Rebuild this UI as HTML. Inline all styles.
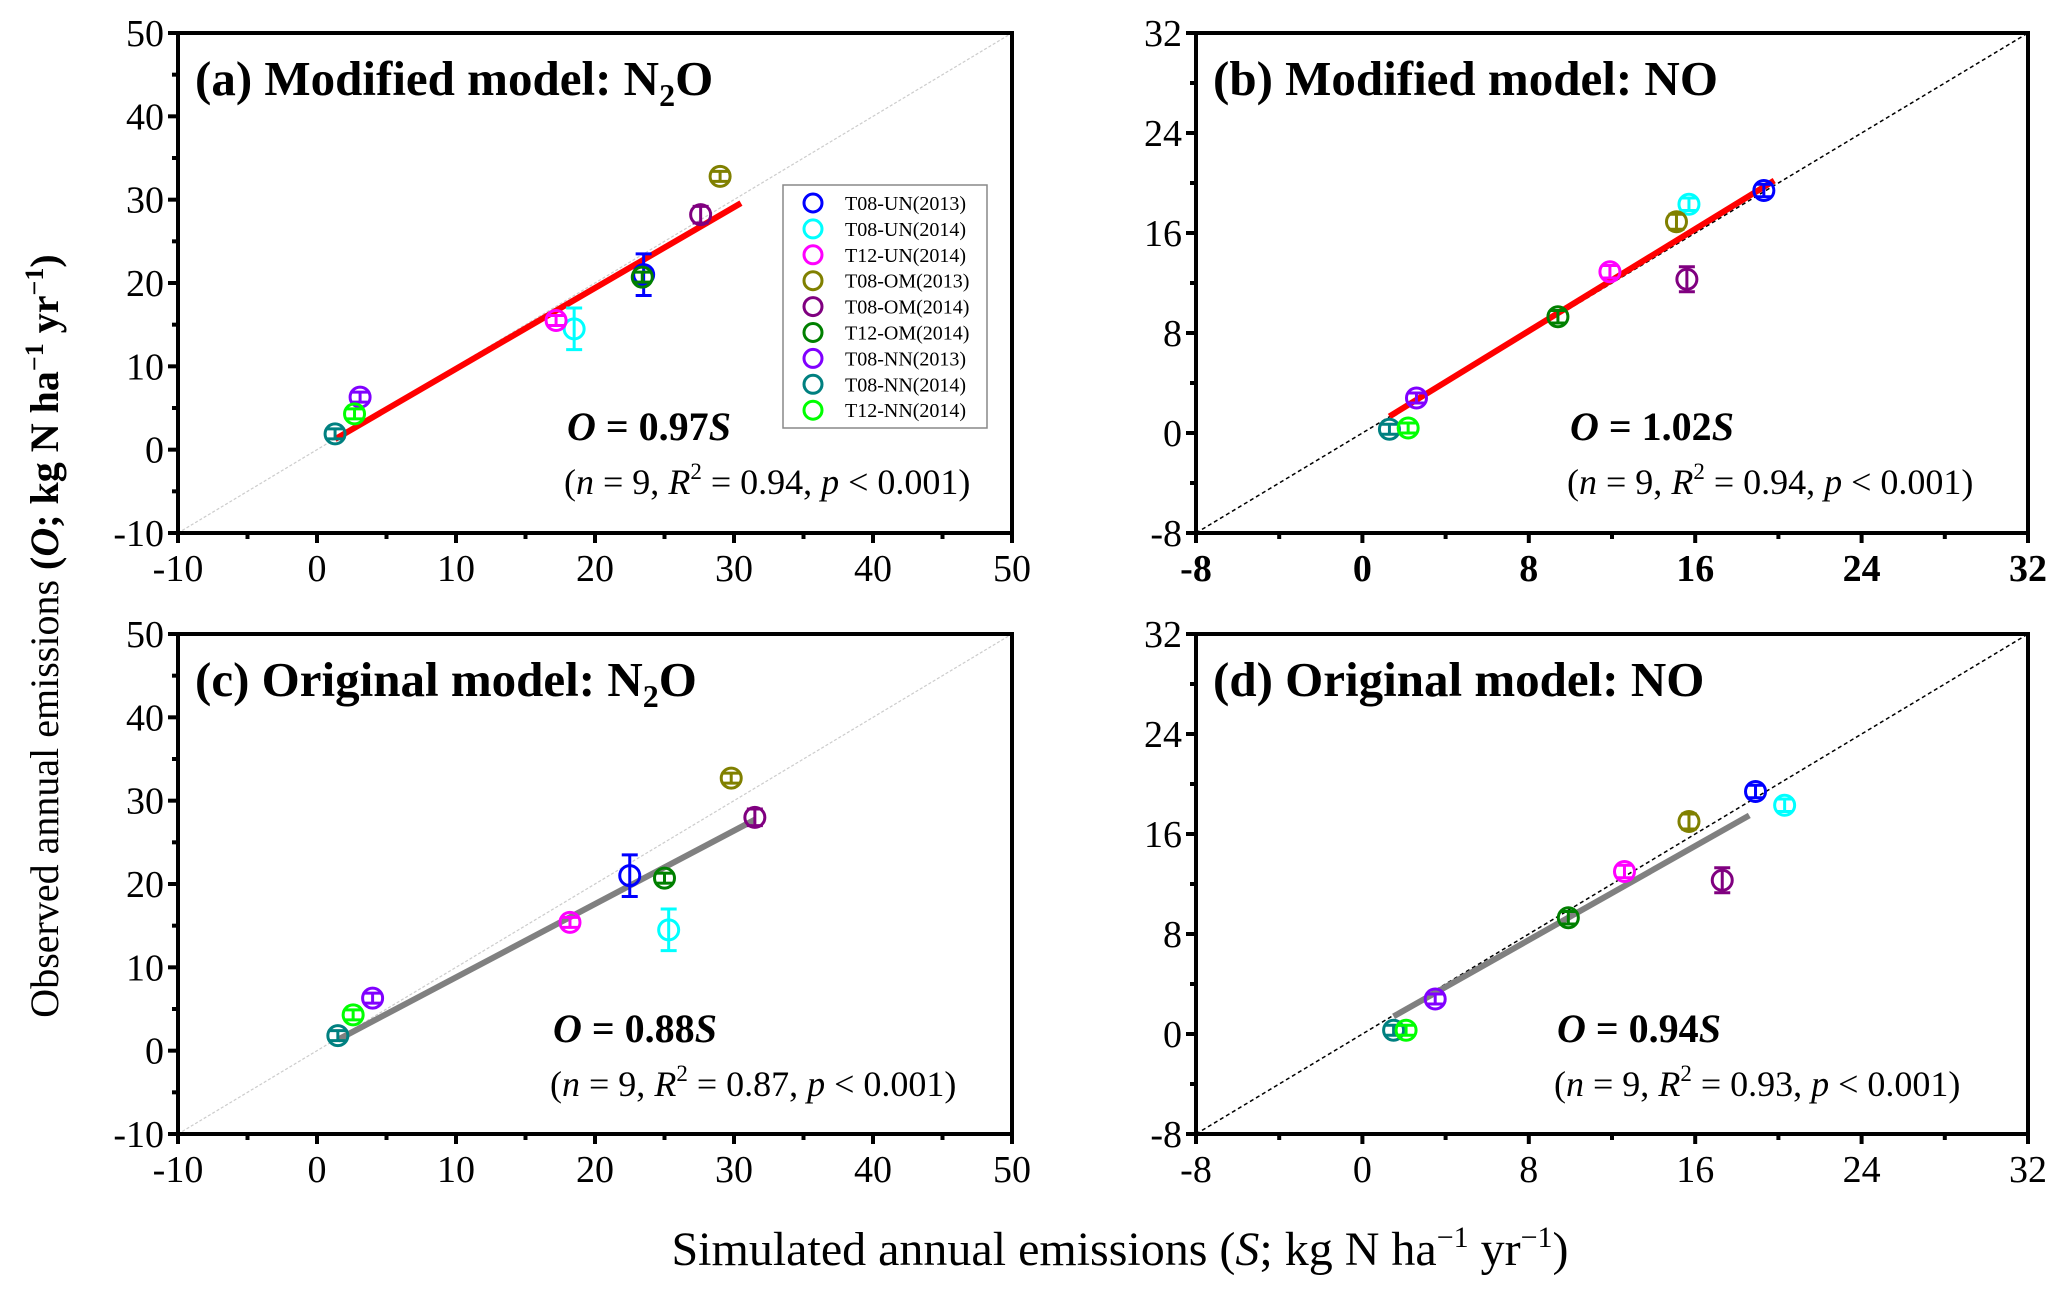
<!DOCTYPE html>
<html><head><meta charset="utf-8"><style>
body{margin:0;background:#fff}
svg{display:block;font-family:"Liberation Serif",serif}
</style></head><body>
<svg id="fig" width="2067" height="1295" viewBox="0 0 2067 1295" xmlns="http://www.w3.org/2000/svg">
<text transform="translate(58,636) rotate(-90)" text-anchor="middle" font-size="40">Observed annual emissions  <tspan font-weight="bold">(<tspan font-style="italic">O</tspan>; kg N ha<tspan font-size="26" dy="-15">−1</tspan><tspan dy="15"> yr</tspan><tspan font-size="26" dy="-15">−1</tspan><tspan dy="15">)</tspan></tspan></text>
<text x="1120" y="1265" text-anchor="middle" font-size="48">Simulated annual emissions (<tspan font-style="italic">S</tspan>; kg N ha<tspan font-size="30" dy="-18">−1</tspan><tspan dy="18"> yr</tspan><tspan font-size="30" dy="-18">−1</tspan><tspan dy="18">)</tspan></text>
</svg>
<script>
const seriesNames=["T08-UN(2013)","T08-UN(2014)","T12-UN(2014)","T08-OM(2013)","T08-OM(2014)","T12-OM(2014)","T08-NN(2013)","T08-NN(2014)","T12-NN(2014)"];
const seriesColors=["#0000ff","#00ffff","#ff00ff","#808000","#800080","#008000","#8000ff","#008080","#00ff00"];
const aSim=[23.5,18.5,17.2,29.0,27.6,23.4,3.1,1.3,2.7];
const aObs=[21.0,14.5,15.5,32.8,28.2,20.7,6.3,1.9,4.3];
const aErr=[2.5,2.5,0.6,0.6,1.0,0.6,0.6,0.6,0.6];
const bSim=[19.3,15.7,11.9,15.1,15.6,9.4,2.6,1.3,2.2];
const bObs=[19.4,18.3,12.9,16.9,12.3,9.3,2.8,0.3,0.4];
const bErr=[0.5,0.5,0.5,0.6,1.0,0.5,0.4,0.4,0.4];
const cSim=[22.5,25.3,18.2,29.8,31.5,25.0,4.0,1.5,2.6];
const cObs=[21.0,14.5,15.4,32.7,28.0,20.7,6.3,1.8,4.3];
const cErr=[2.5,2.5,0.6,0.6,1.0,0.6,0.6,0.6,0.6];
const dSim=[18.9,20.3,12.6,15.7,17.3,9.9,3.5,1.5,2.1];
const dObs=[19.4,18.3,13.0,17.0,12.3,9.3,2.8,0.3,0.3];
const dErr=[0.5,0.5,0.5,0.6,1.0,0.5,0.4,0.4,0.4];
const ticksN2O=[-10,0,10,20,30,40,50];
const ticksNO=[-8,0,8,16,24,32];
const slopes=[0.97,1.02,0.88,0.94];
const r2s=["0.94","0.94","0.87","0.93"];

const NS="http://www.w3.org/2000/svg";
const svg=document.getElementById('fig');
function mk(tag,attrs,parent){const e=document.createElementNS(NS,tag);for(const k in attrs)e.setAttribute(k,attrs[k]);(parent||svg).appendChild(e);return e;}

const panels=[
 {id:'a',L:178,R:1012,T:33,B:533,ticks:ticksN2O,minor:5,sim:aSim,obs:aObs,err:aErr,title:'(a) Modified model: N',sub:true,fit:'#ff0000',fx:[1.3,30.5],diag:'light',xb:false,legend:true,eqx:567,eqy:440},
 {id:'b',L:1196,R:2028,T:33,B:533,ticks:ticksNO,minor:4,sim:bSim,obs:bObs,err:bErr,title:'(b) Modified model: NO',sub:false,fit:'#ff0000',fx:[1.3,19.8],diag:'dot',xb:true,legend:false,eqx:1570,eqy:440},
 {id:'c',L:178,R:1012,T:634,B:1134,ticks:ticksN2O,minor:5,sim:cSim,obs:cObs,err:cErr,title:'(c) Original model: N',sub:true,fit:'#808080',fx:[1.5,31.5],diag:'light',xb:false,legend:false,eqx:553,eqy:1042},
 {id:'d',L:1196,R:2028,T:634,B:1134,ticks:ticksNO,minor:4,sim:dSim,obs:dObs,err:dErr,title:'(d) Original model: NO',sub:false,fit:'#808080',fx:[1.5,18.6],diag:'dot',xb:false,legend:false,eqx:1557,eqy:1042}
];
panels.forEach((p,pi)=>{
 const g=mk('g',{});
 
 
 const t0=p.ticks[0],t1=p.ticks[p.ticks.length-1];
 const sx=v=>p.L+(v-t0)/(t1-t0)*(p.R-p.L);
 const sy=v=>p.B-(v-t0)/(t1-t0)*(p.B-p.T);
 const dl=mk('line',{x1:sx(t0),y1:sy(t0),x2:sx(t1),y2:sy(t1),stroke:p.diag==='dot'?'#000':'#ccc','stroke-width':p.diag==='dot'?1.5:1.2,'stroke-dasharray':p.diag==='dot'?'4,3':'3,2'},g);
 
 
 const fl=mk('line',{x1:sx(p.fx[0]),y1:sy(p.fx[0]*slopes[pi]),x2:sx(p.fx[1]),y2:sy(p.fx[1]*slopes[pi]),stroke:p.fit,'stroke-width':6},g);
 
 
 p.sim.forEach((s,i)=>{
  const pg=mk('g',{stroke:seriesColors[i],fill:'none','stroke-width':3},g);
  
  
  const x=sx(s),y=sy(p.obs[i]),y1=sy(p.obs[i]+p.err[i]),y2=sy(p.obs[i]-p.err[i]);
  mk('line',{x1:x,y1:y1,x2:x,y2:y2},pg);
  mk('line',{x1:x-8,y1:y1,x2:x+8,y2:y1},pg);
  mk('line',{x1:x-8,y1:y2,x2:x+8,y2:y2},pg);
  mk('circle',{cx:x,cy:y,r:10},pg);
 });
 const fr=mk('rect',{x:p.L,y:p.T,width:p.R-p.L,height:p.B-p.T,fill:'none',stroke:'#000','stroke-width':4},g);
 
 
 for(let v=t0;v<=t1+1e-9;v+=p.minor){
  const major=p.ticks.includes(v);const len=major?10:6;
  mk('line',{x1:sx(v),y1:p.B,x2:sx(v),y2:p.B+len,stroke:'#000','stroke-width':4},g);
  mk('line',{x1:p.L,y1:sy(v),x2:p.L-len,y2:sy(v),stroke:'#000','stroke-width':4},g);
 }
 p.ticks.forEach(v=>{
  const xl=mk('text',{x:sx(v),y:p.B+48,'text-anchor':'middle','font-size':38,'font-weight':p.xb?'bold':'normal'},g);
  xl.textContent=v;
  
  
  const yl=mk('text',{x:p.L-14,y:sy(v)+13,'text-anchor':'end','font-size':38},g);
  yl.textContent=v;
  
  
 });
 const tt=mk('text',{x:p.L+17,y:p.T+62,'font-size':49,'font-weight':'bold'},g);
 
 
 if(p.sub){tt.appendChild(document.createTextNode(p.title));const s=mk('tspan',{'font-size':32,dy:11},tt);s.textContent='2';const o=mk('tspan',{dy:-11},tt);o.textContent='O';}
 else tt.textContent=p.title;
 const eq=mk('text',{x:p.eqx,y:p.eqy,'font-size':40,'font-weight':'bold'},g);
 
 
 eq.innerHTML='<tspan font-style="italic">O</tspan> = '+slopes[pi].toFixed(2)+'<tspan font-style="italic">S</tspan>';
 const st=mk('text',{x:p.eqx-3,y:p.eqy+54,'font-size':36},g);
 
 
 st.innerHTML='(<tspan font-style="italic">n</tspan> = 9, <tspan font-style="italic">R</tspan><tspan font-size="23" dy="-15">2</tspan><tspan dy="15"> = '+r2s[pi]+', </tspan><tspan font-style="italic">p</tspan> &lt; 0.001)';
 if(p.legend){
  const lg=mk('g',{},g);
  
  
  mk('rect',{x:783,y:185,width:204,height:243,fill:'#fff',stroke:'#888','stroke-width':1.5},lg);
  seriesNames.forEach((n,i)=>{
   const e=mk('g',{},lg);
   
   
   const y=203+i*25.9;
   mk('circle',{cx:813,cy:y,r:9,fill:'none',stroke:seriesColors[i],'stroke-width':3},e);
   const tx=mk('text',{x:845,y:y+7,'font-size':20},e);tx.textContent=n;
  });
 }
});
</script>
</body></html>
